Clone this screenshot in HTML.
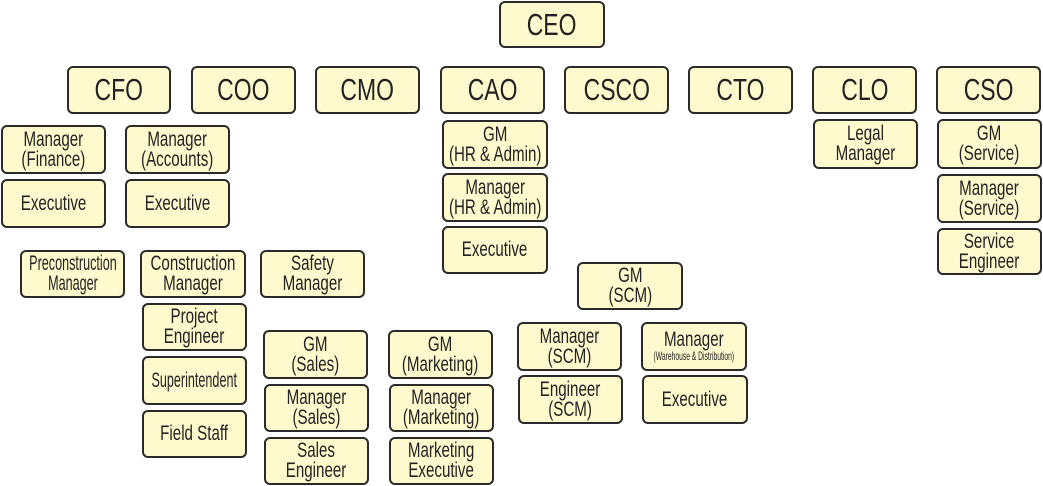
<!DOCTYPE html>
<html><head><meta charset="utf-8"><style>
body{margin:0;width:1043px;height:486px;background:#fff;position:relative;overflow:hidden;font-family:"Liberation Sans",sans-serif;color:#222}
.b{position:absolute;box-sizing:border-box;border:2px solid #2a2a2a;border-radius:6px;background:#fffacd;display:flex;align-items:center;justify-content:center;text-align:center}
.b span{display:inline-block;transform:scaleX(.72);white-space:nowrap;font-size:21px;line-height:20px}
.b.t span{font-size:31px;line-height:32px;transform:scaleX(.74)}
.b.n span{transform:scaleX(.6)}
.b small{font-size:12px;line-height:13px;display:block;transform:scaleX(.78)}
</style></head><body>
<div class="b t" style="left:499px;top:1px;width:106px;height:47px"><span>CEO</span></div>
<div class="b t" style="left:67px;top:66px;width:104px;height:48px"><span>CFO</span></div>
<div class="b t" style="left:191px;top:66px;width:105px;height:48px"><span>COO</span></div>
<div class="b t" style="left:315px;top:66px;width:105px;height:48px"><span>CMO</span></div>
<div class="b t" style="left:440px;top:66px;width:105px;height:48px"><span>CAO</span></div>
<div class="b t" style="left:564px;top:66px;width:105px;height:48px"><span>CSCO</span></div>
<div class="b t" style="left:688px;top:66px;width:105px;height:48px"><span>CTO</span></div>
<div class="b t" style="left:812px;top:66px;width:105px;height:48px"><span>CLO</span></div>
<div class="b t" style="left:936px;top:66px;width:105px;height:48px"><span>CSO</span></div>

<div class="b" style="left:1px;top:125px;width:105px;height:49px"><span>Manager<br>(Finance)</span></div>
<div class="b" style="left:1px;top:179px;width:105px;height:49px"><span>Executive</span></div>
<div class="b" style="left:125px;top:125px;width:105px;height:49px"><span>Manager<br>(Accounts)</span></div>
<div class="b" style="left:125px;top:179px;width:105px;height:49px"><span>Executive</span></div>

<div class="b" style="left:442px;top:120px;width:106px;height:49px"><span>GM<br>(HR &amp; Admin)</span></div>
<div class="b" style="left:442px;top:173px;width:106px;height:49px"><span>Manager<br>(HR &amp; Admin)</span></div>
<div class="b" style="left:442px;top:226px;width:106px;height:48px"><span>Executive</span></div>

<div class="b" style="left:813px;top:119px;width:105px;height:50px"><span>Legal<br>Manager</span></div>
<div class="b" style="left:937px;top:119px;width:105px;height:50px"><span>GM<br>(Service)</span></div>
<div class="b" style="left:937px;top:174px;width:105px;height:49px"><span>Manager<br>(Service)</span></div>
<div class="b" style="left:937px;top:228px;width:105px;height:47px"><span>Service<br>Engineer</span></div>

<div class="b n" style="left:20px;top:250px;width:105px;height:48px"><span>Preconstruction<br>Manager</span></div>
<div class="b" style="left:140px;top:250px;width:106px;height:48px"><span>Construction<br>Manager</span></div>
<div class="b" style="left:260px;top:250px;width:105px;height:48px"><span>Safety<br>Manager</span></div>
<div class="b" style="left:142px;top:303px;width:105px;height:48px"><span>Project<br>Engineer</span></div>
<div class="b n" style="left:142px;top:356px;width:105px;height:49px"><span>Superintendent</span></div>
<div class="b" style="left:142px;top:410px;width:105px;height:48px"><span>Field Staff</span></div>

<div class="b" style="left:263px;top:330px;width:105px;height:49px"><span>GM<br>(Sales)</span></div>
<div class="b" style="left:264px;top:384px;width:105px;height:48px"><span>Manager<br>(Sales)</span></div>
<div class="b" style="left:264px;top:437px;width:105px;height:48px"><span>Sales<br>Engineer</span></div>
<div class="b" style="left:388px;top:330px;width:105px;height:49px"><span>GM<br>(Marketing)</span></div>
<div class="b" style="left:389px;top:384px;width:105px;height:48px"><span>Manager<br>(Marketing)</span></div>
<div class="b" style="left:389px;top:437px;width:105px;height:48px"><span>Marketing<br>Executive</span></div>

<div class="b" style="left:577px;top:262px;width:106px;height:48px"><span>GM<br>(SCM)</span></div>
<div class="b" style="left:517px;top:322px;width:105px;height:49px"><span>Manager<br>(SCM)</span></div>
<div class="b" style="left:518px;top:375px;width:105px;height:49px"><span>Engineer<br>(SCM)</span></div>
<div class="b" style="left:641px;top:322px;width:106px;height:49px"><span>Manager<small>(Warehouse &amp; Distribution)</small></span></div>
<div class="b" style="left:642px;top:375px;width:106px;height:49px"><span>Executive</span></div>
</body></html>
